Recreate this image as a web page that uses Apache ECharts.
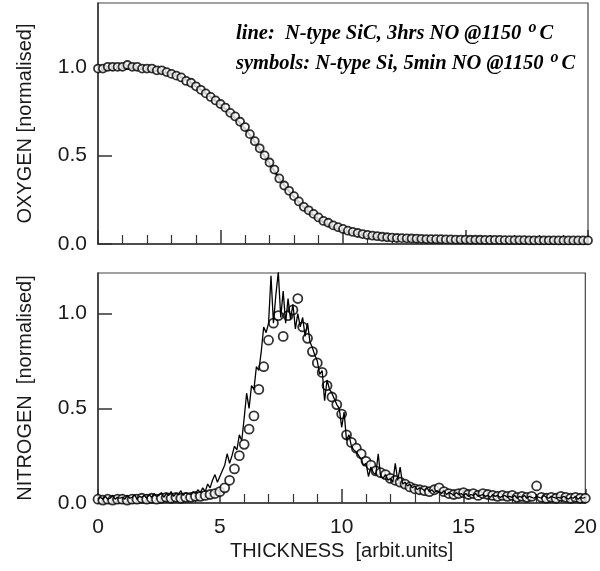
<!DOCTYPE html>
<html>
<head>
<meta charset="utf-8">
<script src="https://cdn.jsdelivr.net/npm/echarts@6/dist/echarts.min.js"></script>
<style>
  html, body { margin: 0; padding: 0; background: #fff; }
  #main { width: 600px; height: 571px; }
</style>
</head>
<body>
<div id="main"></div>
<script>
// thickness positions of the symbols (arbit. units)
var symX = [
  0, 0.2, 0.4, 0.6, 0.8, 1, 1.2, 1.4, 1.6, 1.8,
  2, 2.2, 2.4, 2.6, 2.8, 3, 3.2, 3.4, 3.6, 3.8,
  4, 4.2, 4.4, 4.6, 4.8, 5, 5.2, 5.4, 5.6, 5.8,
  6, 6.2, 6.4, 6.6, 6.8, 7, 7.2, 7.4, 7.6, 7.8,
  8, 8.2, 8.4, 8.6, 8.8, 9, 9.2, 9.4, 9.6, 9.8,
  10, 10.2, 10.4, 10.6, 10.8, 11, 11.2, 11.4, 11.6, 11.8,
  12, 12.2, 12.4, 12.6, 12.8, 13, 13.2, 13.4, 13.6, 13.8,
  14, 14.2, 14.4, 14.6, 14.8, 15, 15.2, 15.4, 15.6, 15.8,
  16, 16.2, 16.4, 16.6, 16.8, 17, 17.2, 17.4, 17.6, 17.8,
  18, 18.2, 18.4, 18.6, 18.8, 19, 19.2, 19.4, 19.6, 19.8,
  20
];

// oxygen, symbols: N-type Si, 5min NO
var oxySymY = [
  0.99, 0.99, 1.0, 1.0, 1.0, 1.0, 1.01, 1.0, 1.0, 0.99,
  0.99, 0.99, 0.98, 0.98, 0.97, 0.96, 0.95, 0.94, 0.92, 0.91,
  0.89, 0.87, 0.85, 0.83, 0.81, 0.79, 0.77, 0.74, 0.72, 0.69,
  0.66, 0.62, 0.58, 0.54, 0.50, 0.46, 0.42, 0.37, 0.33, 0.30,
  0.27, 0.24, 0.21, 0.19, 0.17, 0.15, 0.13, 0.12, 0.105, 0.095,
  0.085, 0.075, 0.068, 0.062, 0.056, 0.051, 0.047, 0.044, 0.041, 0.038,
  0.036, 0.034, 0.033, 0.032, 0.031, 0.030, 0.029, 0.028, 0.028, 0.027,
  0.027, 0.026, 0.026, 0.025, 0.025, 0.025, 0.024, 0.024, 0.024, 0.023,
  0.023, 0.023, 0.023, 0.022, 0.022, 0.022, 0.022, 0.022, 0.021, 0.021,
  0.021, 0.021, 0.021, 0.021, 0.020, 0.020, 0.020, 0.020, 0.020, 0.020,
  0.020
];

// oxygen, line: N-type SiC, 3hrs NO
var oxyLineX = [
  0, 0.5, 1, 1.5, 2, 2.5, 3, 3.5, 4, 4.5,
  5, 5.5, 6, 6.5, 7, 7.5, 8, 8.5, 9, 9.5,
  10, 10.5, 11, 11.5, 12, 12.5, 13, 13.5, 14, 14.5,
  15, 15.5, 16, 16.5, 17, 17.5, 18, 18.5, 19, 19.5,
  20
];
var oxyLineY = [
  0.98, 0.985, 0.99, 0.99, 0.985, 0.975, 0.96, 0.935, 0.89, 0.84,
  0.785, 0.725, 0.65, 0.555, 0.455, 0.35, 0.265, 0.195, 0.14, 0.10,
  0.075, 0.056, 0.043, 0.034, 0.028, 0.024, 0.021, 0.019, 0.017, 0.016,
  0.015, 0.015, 0.014, 0.014, 0.013, 0.013, 0.013, 0.012, 0.012, 0.012,
  0.012
];

// nitrogen, symbols
var nitroSymY = [
  0.02, 0.015, 0.02, 0.015, 0.02, 0.02, 0.015, 0.02, 0.02, 0.025,
  0.02, 0.025, 0.02, 0.025, 0.03, 0.025, 0.03, 0.025, 0.03, 0.03,
  0.035, 0.035, 0.04, 0.045, 0.05, 0.06, 0.08, 0.12, 0.18, 0.25,
  0.31, 0.39, 0.46, 0.60, 0.72, 0.86, 0.95, 0.99, 0.88, 0.99,
  1.02, 1.08, 0.93, 0.87, 0.80, 0.74, 0.69, 0.62, 0.56, 0.52,
  0.47, 0.36, 0.32, 0.29, 0.26, 0.22, 0.20, 0.17, 0.16, 0.15,
  0.13, 0.12, 0.11, 0.10, 0.085, 0.075, 0.07, 0.065, 0.06, 0.07,
  0.08, 0.06, 0.05, 0.045, 0.05, 0.055, 0.045, 0.05, 0.04, 0.05,
  0.045, 0.04, 0.035, 0.04, 0.035, 0.04, 0.03, 0.035, 0.03, 0.035,
  0.09, 0.03, 0.025, 0.03, 0.025, 0.035, 0.03, 0.025, 0.03, 0.025,
  0.025
];

// nitrogen, line
var nitroLineX = [
  0, 0.1, 0.2, 0.3, 0.4, 0.5, 0.6, 0.7, 0.8, 0.9,
  1, 1.1, 1.2, 1.3, 1.4, 1.5, 1.6, 1.7, 1.8, 1.9,
  2, 2.1, 2.2, 2.3, 2.4, 2.5, 2.6, 2.7, 2.8, 2.9,
  3, 3.1, 3.2, 3.3, 3.4, 3.5, 3.6, 3.7, 3.8, 3.9,
  4, 4.1, 4.2, 4.3, 4.4, 4.5, 4.6, 4.7, 4.8, 4.9,
  5, 5.1, 5.2, 5.3, 5.4, 5.5, 5.6, 5.7, 5.8, 5.9,
  6, 6.1, 6.2, 6.3, 6.4, 6.5, 6.6, 6.7, 6.8, 6.9,
  7, 7.1, 7.2, 7.3, 7.4, 7.5, 7.6, 7.7, 7.8, 7.9,
  8, 8.1, 8.2, 8.3, 8.4, 8.5, 8.6, 8.7, 8.8, 8.9,
  9, 9.1, 9.2, 9.3, 9.4, 9.5, 9.6, 9.7, 9.8, 9.9,
  10, 10.1, 10.2, 10.3, 10.4, 10.5, 10.6, 10.7, 10.8, 10.9,
  11, 11.1, 11.2, 11.3, 11.4, 11.5, 11.6, 11.7, 11.8, 11.9,
  12, 12.1, 12.2, 12.3, 12.4, 12.5, 12.6, 12.7, 12.8, 12.9,
  13, 13.1, 13.2, 13.3, 13.4, 13.5, 13.6, 13.7, 13.8, 13.9,
  14, 14.1, 14.2, 14.3, 14.4, 14.5, 14.6, 14.7, 14.8, 14.9,
  15, 15.1, 15.2, 15.3, 15.4, 15.5, 15.6, 15.7, 15.8, 15.9,
  16, 16.1, 16.2, 16.3, 16.4, 16.5, 16.6, 16.7, 16.8, 16.9,
  17, 17.1, 17.2, 17.3, 17.4, 17.5, 17.6, 17.7, 17.8, 17.9,
  18, 18.1, 18.2, 18.3, 18.4, 18.5, 18.6, 18.7, 18.8, 18.9,
  19, 19.1, 19.2, 19.3, 19.4, 19.5, 19.6, 19.7, 19.8, 19.9,
  20
];
var nitroLineY = [
  0.02, 0.03, 0.02, 0.035, 0.02, 0.025, 0.04, 0.02, 0.03, 0.025,
  0.03, 0.02, 0.04, 0.025, 0.03, 0.045, 0.02, 0.035, 0.03, 0.04,
  0.025, 0.045, 0.03, 0.05, 0.035, 0.04, 0.055, 0.03, 0.05, 0.04,
  0.06, 0.035, 0.05, 0.045, 0.065, 0.04, 0.055, 0.05, 0.045, 0.06,
  0.05, 0.07, 0.055, 0.08, 0.06, 0.10, 0.08, 0.12, 0.15, 0.11,
  0.14, 0.17, 0.20, 0.26, 0.21, 0.25, 0.30, 0.28, 0.36, 0.33,
  0.45, 0.58, 0.50, 0.62, 0.60, 0.72, 0.70, 0.80, 0.93, 0.90,
  0.95, 1.20, 0.95, 1.10, 1.22, 0.98, 1.12, 0.95, 1.08, 0.97,
  1.05, 0.92, 1.00, 0.93, 0.98, 0.88, 0.95, 0.85, 0.82, 0.78,
  0.75, 0.68, 0.70, 0.54, 0.65, 0.60, 0.58, 0.55, 0.52, 0.50,
  0.40, 0.48, 0.33, 0.36, 0.30, 0.28, 0.27, 0.25, 0.23, 0.20,
  0.21, 0.14, 0.19, 0.16, 0.15, 0.26, 0.14, 0.13, 0.15, 0.12,
  0.13, 0.11, 0.21, 0.12, 0.19, 0.10, 0.11, 0.09, 0.10, 0.08,
  0.09, 0.07, 0.08, 0.075, 0.065, 0.08, 0.06, 0.07, 0.055, 0.065,
  0.06, 0.05, 0.065, 0.045, 0.055, 0.05, 0.04, 0.055, 0.045, 0.05,
  0.04, 0.05, 0.035, 0.045, 0.04, 0.05, 0.035, 0.04, 0.045, 0.035,
  0.04, 0.03, 0.045, 0.035, 0.04, 0.03, 0.035, 0.04, 0.03, 0.035,
  0.03, 0.04, 0.025, 0.035, 0.03, 0.04, 0.025, 0.035, 0.03, 0.025,
  0.035, 0.03, 0.025, 0.04, 0.03, 0.025, 0.035, 0.03, 0.025, 0.03,
  0.025, 0.035, 0.03, 0.02, 0.03, 0.025, 0.035, 0.02, 0.03, 0.025,
  0.03
];

var xTicks = [0, 5, 10, 15, 20];
var yTicks = [0, 0.5, 1.0];

function pairs(xs, ys) {
  return xs.map(function (x, i) { return [x, ys[i]]; });
}

var ink = '#1a1a1a';
var sans = '"Liberation Sans", Arial, Helvetica, sans-serif';
var serif = '"Liberation Serif", "Times New Roman", serif';

function makeX(gridIndex, showLabels) {
  return {
    type: 'value', gridIndex: gridIndex, min: 0, max: 20, interval: 5,
    name: showLabels ? 'THICKNESS  [arbit.units]' : '',
    nameLocation: 'middle', nameGap: 38,
    nameTextStyle: { color: ink, fontSize: 20, fontFamily: sans },
    axisLine: { show: true, lineStyle: { color: '#333', width: 1.5 } },
    axisTick: { show: true, inside: true, length: 14, customValues: xTicks, lineStyle: { color: '#333', width: 1.5 } },
    minorTick: { show: true, splitNumber: 5, length: 9, lineStyle: { color: '#333', width: 1.2 } },
    axisLabel: { show: showLabels, customValues: xTicks, color: ink, fontSize: 21, fontFamily: sans, margin: 14 },
    splitLine: { show: false }
  };
}

function makeY(gridIndex, max, title) {
  return {
    type: 'value', gridIndex: gridIndex, min: 0, max: max,
    name: title, nameLocation: 'middle', nameGap: 63,
    nameTextStyle: { color: ink, fontSize: 20, fontFamily: sans },
    axisLine: { show: true, lineStyle: { color: '#333', width: 1.5 } },
    axisTick: { show: true, inside: true, length: 14, customValues: yTicks, lineStyle: { color: '#333', width: 1.5 } },
    axisLabel: {
      customValues: yTicks, color: ink, fontSize: 21, fontFamily: sans, margin: 11,
      formatter: function (v) { return v.toFixed(1); }
    },
    splitLine: { show: false }
  };
}

var symStyle = { color: '#fff', borderColor: '#000', borderWidth: 1.8 };
var txt = { fontFamily: serif, fontStyle: 'italic', fontWeight: 'bold', fontSize: 20.5, color: '#111', lineHeight: 24 };
var sup = { fontFamily: serif, fontStyle: 'italic', fontWeight: 'bold', fontSize: 16, color: '#111', lineHeight: 24, padding: [0, 3, 12, 2] };

var chart = echarts.init(document.getElementById('main'));
chart.setOption({
  animation: false,
  backgroundColor: '#fff',
  grid: [
    { left: 98, top: 3, width: 490, height: 241, show: true, borderColor: '#444', borderWidth: 1.2, backgroundColor: 'transparent' },
    { left: 98, top: 273, width: 490, height: 230, show: true, borderColor: '#444', borderWidth: 1.2, backgroundColor: 'transparent' }
  ],
  xAxis: [makeX(0, false), makeX(1, true)],
  yAxis: [makeY(0, 1.36, 'OXYGEN [normalised]'), makeY(1, 1.215, 'NITROGEN  [normalised]')],
  graphic: [
    {
      type: 'text', left: 236, top: 20,
      style: { text: '{t|line:  N-type SiC, 3hrs NO @1150 }{s|o}{t|C}', rich: { t: txt, s: sup } }
    },
    {
      type: 'text', left: 236, top: 50,
      style: { text: '{t|symbols: N-type Si, 5min NO @1150 }{s|o}{t|C}', rich: { t: txt, s: sup } }
    }
  ],
  series: [
    {
      type: 'line', xAxisIndex: 0, yAxisIndex: 0, data: pairs(oxyLineX, oxyLineY),
      smooth: true, showSymbol: false, lineStyle: { color: '#000', width: 2.2 }, z: 2
    },
    {
      type: 'scatter', xAxisIndex: 0, yAxisIndex: 0, data: pairs(symX, oxySymY),
      symbol: 'circle', symbolSize: 8, itemStyle: symStyle, z: 3
    },
    {
      type: 'scatter', xAxisIndex: 1, yAxisIndex: 1, data: pairs(symX, nitroSymY),
      symbol: 'circle', symbolSize: 9, itemStyle: symStyle, z: 2
    },
    {
      type: 'line', xAxisIndex: 1, yAxisIndex: 1, data: pairs(nitroLineX, nitroLineY),
      showSymbol: false, lineStyle: { color: '#000', width: 1.3 }, z: 3
    }
  ]
});
</script>
</body>
</html>
